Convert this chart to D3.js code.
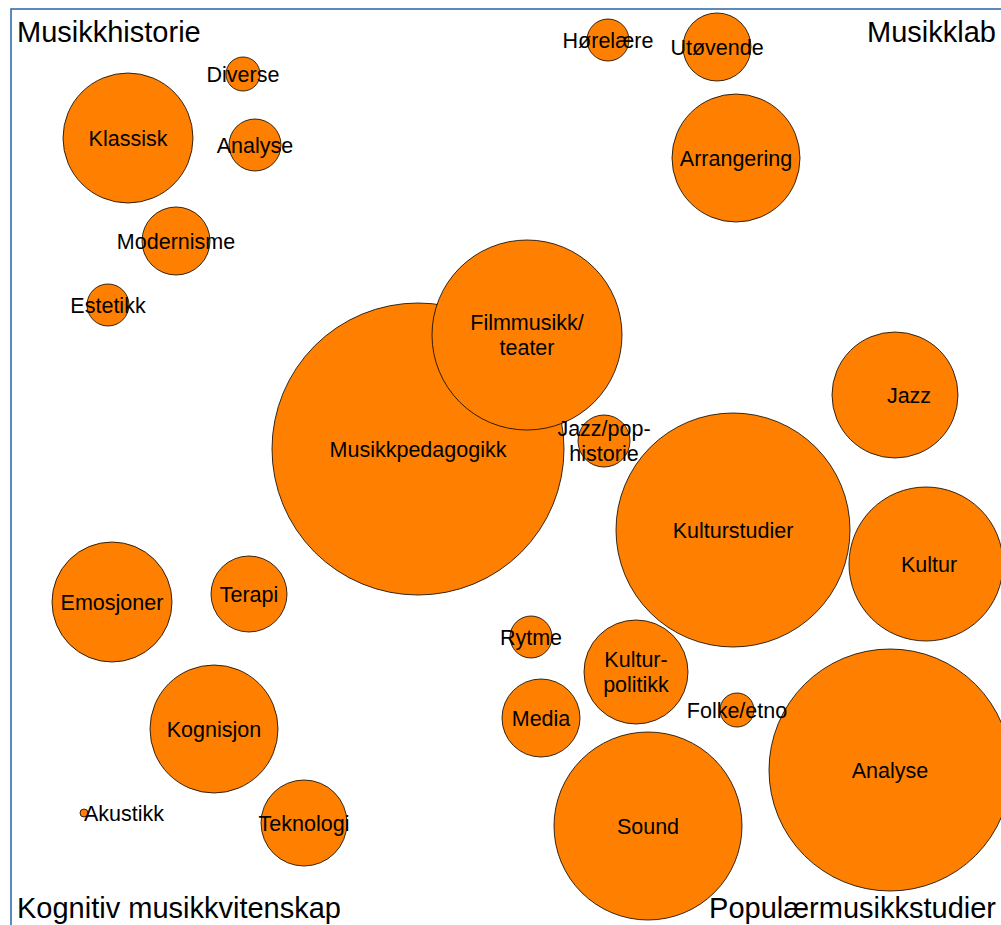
<!DOCTYPE html>
<html>
<head>
<meta charset="utf-8">
<script src="https://cdn.jsdelivr.net/npm/d3@7"></script>
<style>
  body { margin: 0; background: #fff; }
  svg { display: block; font-family: "Liberation Sans", Arial, sans-serif; }
</style>
</head>
<body>
<div id="chart"></div>
<script>
// bubble names ("\n" = line break in the label)
const names = [
    'Diverse', 'Klassisk', 'Analyse', 'Modernisme', 'Estetikk',
    'Hørelære', 'Utøvende', 'Arrangering',
    'Musikkpedagogikk', 'Filmmusikk/\nteater', 'Jazz/pop-\nhistorie',
    'Jazz', 'Kulturstudier', 'Kultur',
    'Emosjoner', 'Terapi', 'Rytme', 'Kultur-\npolitikk', 'Media', 'Folke/etno',
    'Analyse', 'Sound', 'Kognisjon', 'Akustikk', 'Teknologi'
];
// bubble centres and radii, in chart units
const xs = [232, 117, 244, 165, 97, 597, 706, 725, 407, 516, 593, 884, 722, 915,
            101, 238, 520, 625, 530, 726, 879, 637, 203, 73, 293];
const ys = [65, 129, 136, 232, 296, 31, 38, 149, 440, 326, 432, 386, 521, 555,
            593, 585, 628, 663, 709, 701, 761, 817, 720, 804, 814];
const radii = [17, 65, 26, 34, 21, 21, 34, 64, 146, 95, 26, 63, 117, 77,
               60, 38, 21, 52, 39, 17, 121, 94, 64, 4, 43];
// horizontal shift of a label from its bubble centre
const labelShift = [0, 0, 0, 0, 0, 0, 0, 0, 0, 0, 0, 14, 0, 3,
                    0, 0, 0, 0, 0, 0, 0, 0, 0, 0, 0];

// the four corner headings
const groups = ['Musikkhistorie', 'Musikklab', 'Kognitiv musikkvitenskap', 'Populærmusikkstudier'];

const width = 1001, height = 925;
const svg = d3.select('#chart')
    .append('svg')
    .attr('width', width)
    .attr('height', height);

const x = d3.scaleLinear().domain([0, 990]).range([11, 1001]);
const y = d3.scaleLinear().domain([0, 916]).range([9, 925]);
const r = d3.scaleLinear().domain([0, 990]).range([0, 990]);

const data = names.map((n, i) => ({name: n, x: xs[i], y: ys[i], r: radii[i], dx: labelShift[i]}));

// frame (only top and left edges are inside the picture)
svg.append('rect')
    .attr('x', x(0))
    .attr('y', y(0))
    .attr('width', width + 20)
    .attr('height', height + 20)
    .attr('fill', 'none')
    .attr('stroke', '#2764a8')
    .attr('stroke-width', 1.5);

svg.selectAll('.bubble')
    .data(data)
    .enter().append('circle')
    .attr('class', 'bubble')
    .attr('cx', d => x(d.x))
    .attr('cy', d => y(d.y))
    .attr('r', d => r(d.r))
    .attr('fill', '#ff8000')
    .attr('stroke', '#000')
    .attr('stroke-width', 0.8);

const labels = svg.selectAll('.label')
    .data(data)
    .enter().append('text')
    .attr('class', 'label')
    .attr('text-anchor', d => d.r < 8 ? 'start' : 'middle')
    .attr('font-size', 21.5)
    .attr('fill', '#000');

labels.each(function(d) {
    const lines = d.name.split('\n');
    const t = d3.select(this);
    lines.forEach((line, i) => {
        t.append('tspan')
            .attr('x', x(d.x + d.dx))
            .attr('y', y(d.y) + (i - (lines.length - 1) / 2) * 25)
            .attr('dy', '0.35em')
            .text(line);
    });
});

// corner headings
const corners = [
    {x: 17, y: 42, anchor: 'start'},
    {x: 996, y: 42, anchor: 'end'},
    {x: 17, y: 918, anchor: 'start'},
    {x: 996, y: 918, anchor: 'end'}
];
svg.selectAll('.group')
    .data(groups)
    .enter().append('text')
    .attr('class', 'group')
    .attr('x', (d, i) => corners[i].x)
    .attr('y', (d, i) => corners[i].y)
    .attr('text-anchor', (d, i) => corners[i].anchor)
    .attr('font-size', 29)
    .attr('fill', '#000')
    .text(d => d);
</script>
</body>
</html>
